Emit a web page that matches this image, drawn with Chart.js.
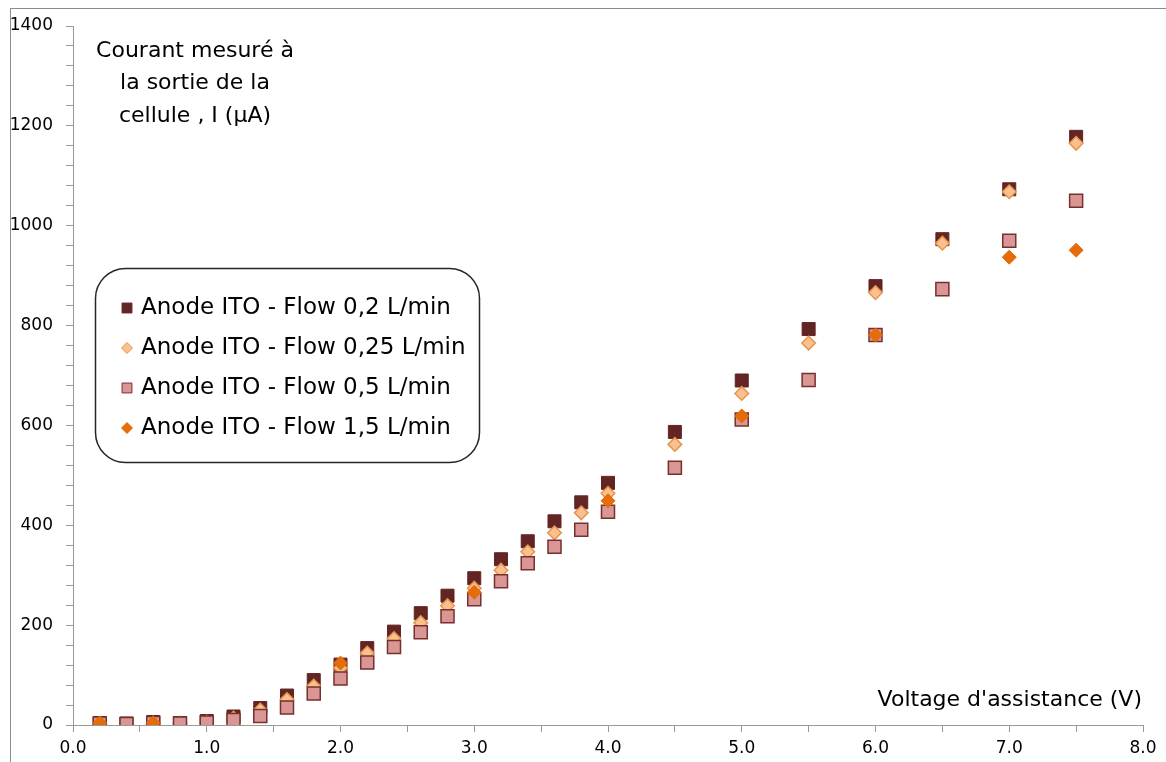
<!DOCTYPE html>
<html lang="fr">
<head>
  <meta charset="UTF-8">
  <title>Courant mesuré à la sortie de la cellule</title>
  <script src="https://cdn.jsdelivr.net/npm/chart.js"></script>
  <style>
    body { margin: 0; background: #fff; }
    #wrap { width: 1166px; height: 762px; }
  </style>
</head>
<body>
  <div id="wrap"><canvas id="chart" width="1166" height="762"></canvas></div>

  <script>
    // voltages (V)
    const voltages = [0.2, 0.4, 0.6, 0.8, 1.0, 1.2, 1.4, 1.6, 1.8, 2.0, 2.2, 2.4, 2.6, 2.8,
                      3.0, 3.2, 3.4, 3.6, 3.8, 4.0, 4.5, 5.0, 5.5, 6.0, 6.5, 7.0, 7.5];
    // current (µA) per flow
    const flow02  = [4, 3, 6, 4, 8, 17, 34, 59, 90, 121, 154, 187, 224, 259,
                     294, 332, 368, 408, 446, 485, 587, 690, 793, 879, 973, 1073, 1178];
    const flow025 = [3, 2, 4, 4, 6, 14, 30, 51, 78, 114, 144, 173, 205, 239,
                     274, 310, 347, 385, 425, 464, 562, 664, 765, 866, 965, 1068, 1165];
    const flow05  = [3, 2, 4, 3, 5, 10, 18, 35, 63, 93, 125, 156, 186, 218,
                     252, 288, 324, 357, 391, 427, 515, 612, 691, 781, 873, 970, 1050];
    const voltages15 = [0.2, 0.6, 2.0, 3.0, 4.0, 5.0, 6.0, 7.0, 7.5];
    const flow15     = [4, 4, 124, 266, 449, 619, 781, 937, 951];

    const seriesNames = ['Anode ITO - Flow 0,2 L/min', 'Anode ITO - Flow 0,25 L/min',
                         'Anode ITO - Flow 0,5 L/min', 'Anode ITO - Flow 1,5 L/min'];
    const yTitle = ['Courant mesuré à', 'la sortie de la', 'cellule , I (µA)'];
    const xTitle = "Voltage d'assistance (V)";

    const FONT = '"DejaVu Sans", Verdana, sans-serif';

    function pts(xs, ys) { return xs.map((x, i) => ({ x: x, y: ys[i] })); }

    // frame, axis titles and the rounded legend box
    const decor = {
      id: 'decor',
      afterDraw(chart) {
        const ctx = chart.ctx;
        ctx.save();
        ctx.strokeStyle = '#8c8c8c';
        ctx.lineWidth = 1;
        ctx.strokeRect(10.5, 8.5, 1300, 900);

        ctx.fillStyle = '#000';
        ctx.font = '22px ' + FONT;
        ctx.textAlign = 'center';
        ctx.textBaseline = 'middle';
        yTitle.forEach((t, i) => ctx.fillText(t, 195, 51 + i * 32.5));
        ctx.textAlign = 'right';
        ctx.fillText(xTitle, 1142, 700);

        // legend
        const bx = 95.5, by = 268.5, bw = 384, bh = 194, r = 30;
        ctx.beginPath();
        ctx.moveTo(bx + r, by);
        ctx.arcTo(bx + bw, by, bx + bw, by + bh, r);
        ctx.arcTo(bx + bw, by + bh, bx, by + bh, r);
        ctx.arcTo(bx, by + bh, bx, by, r);
        ctx.arcTo(bx, by, bx + bw, by, r);
        ctx.closePath();
        ctx.fillStyle = '#fff';
        ctx.fill();
        ctx.strokeStyle = '#262626';
        ctx.lineWidth = 1.5;
        ctx.stroke();

        const ds = chart.data.datasets;
        ds.forEach((d, i) => {
          const y = 308 + i * 40;
          ctx.fillStyle = d.pointBackgroundColor;
          ctx.strokeStyle = d.pointBorderColor;
          ctx.lineWidth = 1;
          const rad = d.pointStyle === 'rect' ? 7 : 5.5;
          Chart.helpers.drawPoint(ctx, { pointStyle: d.pointStyle, radius: rad, rotation: 0, borderWidth: 1 }, 127, y);
          ctx.fillStyle = '#000';
          ctx.font = '23px ' + FONT;
          ctx.textAlign = 'left';
          ctx.textBaseline = 'middle';
          ctx.fillText(d.label, 141, y);
        });
        ctx.restore();
      }
    };

    new Chart(document.getElementById('chart'), {
      type: 'scatter',
      data: {
        datasets: [
          {
            label: seriesNames[0], data: pts(voltages, flow02), order: 4,
            pointStyle: 'rect', pointRadius: 9.2, pointHoverRadius: 9.2,
            pointBackgroundColor: '#632523', pointBorderColor: '#632523', pointBorderWidth: 1
          },
          {
            label: seriesNames[1], data: pts(voltages, flow025), order: 3,
            pointStyle: 'rectRot', pointRadius: 6.8, pointHoverRadius: 6.8,
            pointBackgroundColor: '#fac08f', pointBorderColor: '#e8954c', pointBorderWidth: 1.5
          },
          {
            label: seriesNames[2], data: pts(voltages, flow05), order: 2,
            pointStyle: 'rect', pointRadius: 9.2, pointHoverRadius: 9.2,
            pointBackgroundColor: '#d99694', pointBorderColor: '#76302e', pointBorderWidth: 1.5
          },
          {
            label: seriesNames[3], data: pts(voltages15, flow15), order: 1,
            pointStyle: 'rectRot', pointRadius: 7, pointHoverRadius: 7,
            pointBackgroundColor: '#e46c0a', pointBorderColor: '#e46c0a', pointBorderWidth: 1
          }
        ]
      },
      options: {
        responsive: false,
        animation: false,
        layout: { padding: { left: 10, top: 26, right: 23, bottom: 0 } },
        plugins: { legend: { display: false }, tooltip: { enabled: false } },
        scales: {
          x: {
            type: 'linear', min: 0, max: 8,
            afterFit(s) { s.height = 37; },
            border: { color: '#999', width: 1 },
            grid: { drawOnChartArea: false, tickLength: 7, color: '#999' },
            ticks: {
              stepSize: 0.5, autoSkip: false, maxRotation: 0, padding: 6,
              color: '#000', font: { family: FONT, size: 17 },
              callback: v => (Math.abs(v - Math.round(v)) < 1e-6 ? v.toFixed(1) : '')
            }
          },
          y: {
            type: 'linear', min: 0, max: 1400,
            afterFit(s) { s.width = 63; },
            border: { color: '#999', width: 1 },
            grid: { drawOnChartArea: false, tickLength: 7, color: '#999' },
            ticks: {
              stepSize: 40, autoSkip: false, padding: 13,
              color: '#000', font: { family: FONT, size: 17 },
              callback: v => (v % 200 === 0 ? String(v) : '')
            }
          }
        }
      },
      plugins: [decor]
    });
  </script>
</body>
</html>
